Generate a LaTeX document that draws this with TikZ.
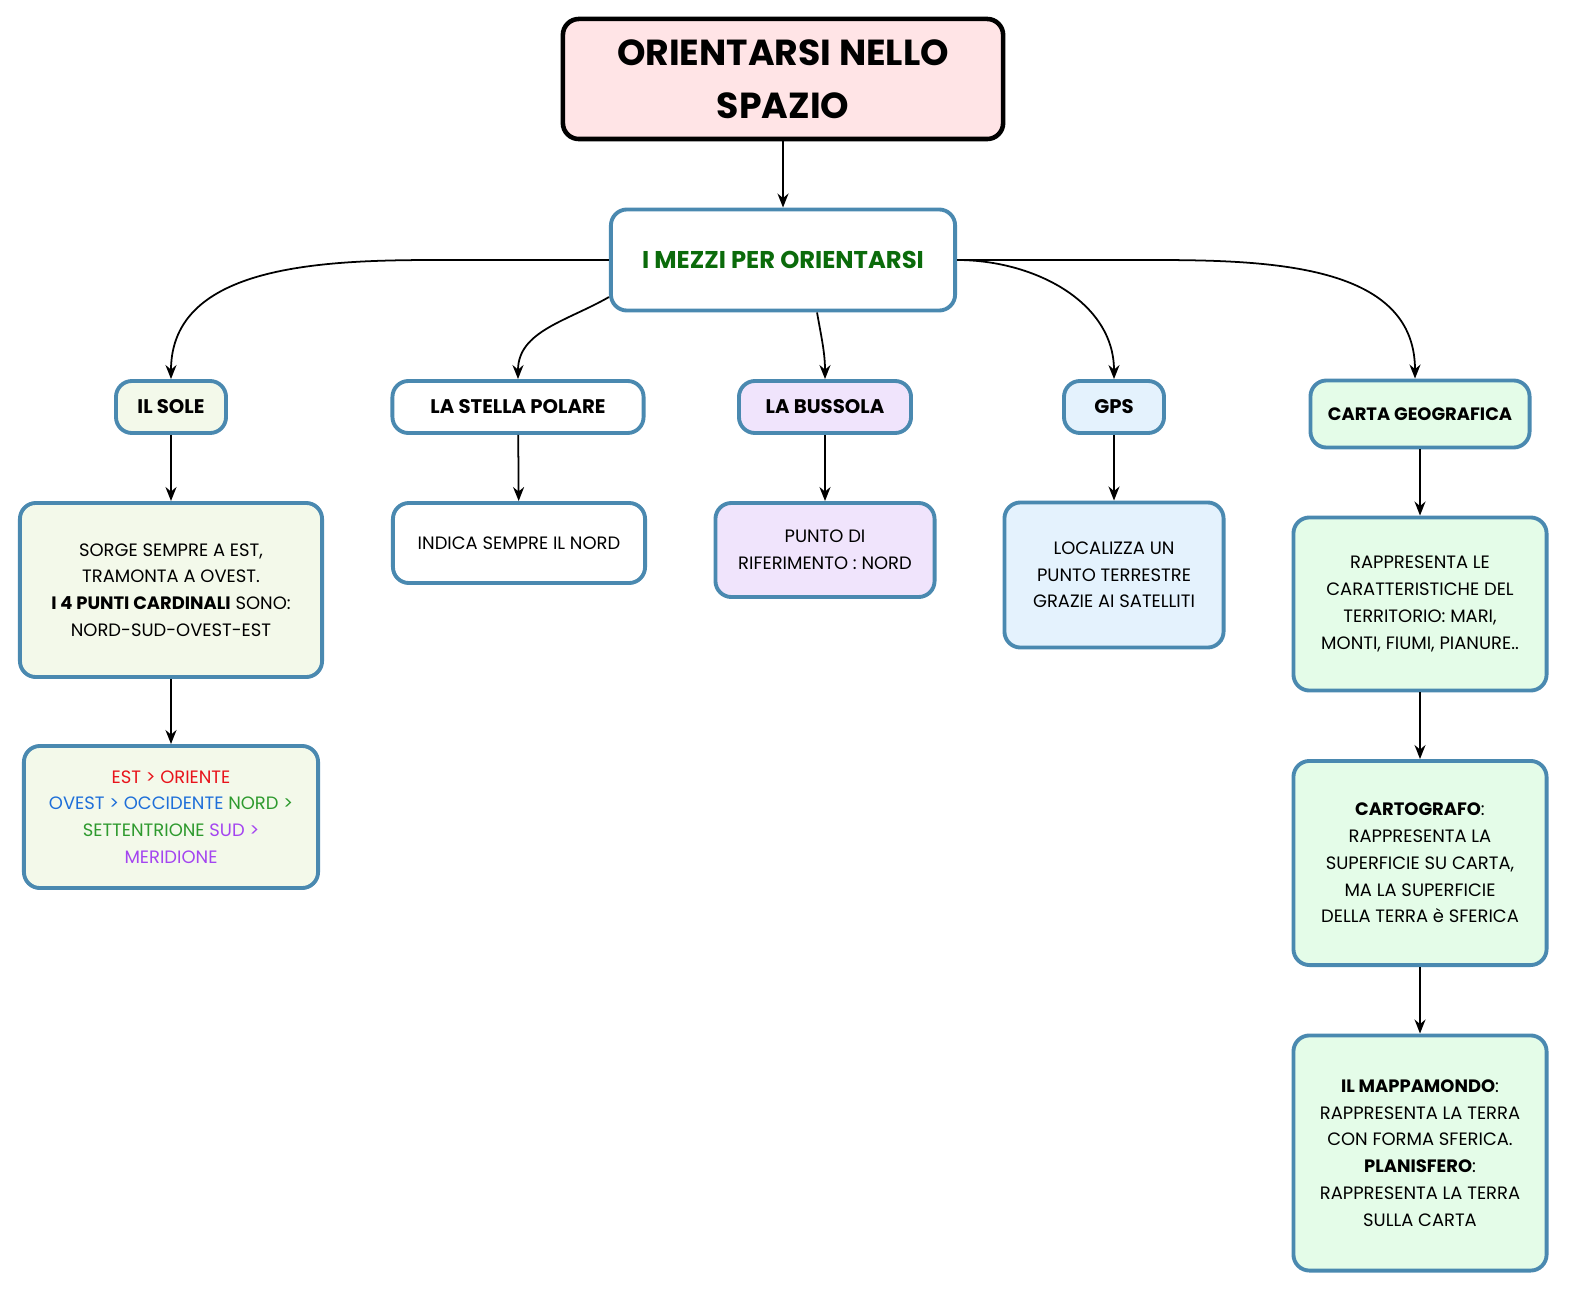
\documentclass[tikz,border=0pt]{standalone}
\usepackage{fontspec}
\setmainfont{Poppins}
\usetikzlibrary{positioning, calc, arrows.meta}
\definecolor{frame}{HTML}{4A89B0}
\definecolor{titlefill}{HTML}{FFE4E6}
\definecolor{solefill}{HTML}{F3F9EA}
\definecolor{bussfill}{HTML}{F0E4FC}
\definecolor{gpsfill}{HTML}{E4F2FD}
\definecolor{cartafill}{HTML}{E4FCE8}
\definecolor{mezzigreen}{HTML}{0B6B0B}
\definecolor{estred}{HTML}{E8141B}
\definecolor{ovestblue}{HTML}{1E6FD9}
\definecolor{nordgreen}{HTML}{2E9A2E}
\definecolor{sudviolet}{HTML}{A445F0}
\tikzset{
    box/.style={draw=frame, line width=1.1pt, rounded corners=1.6mm, align=center, inner sep=0pt, font=\fontsize{5.1}{7.6}\selectfont},
    head/.style={box, font=\fontsize{5.6}{7}\selectfont\bfseries},
    link/.style={-{Stealth[length=1.4mm,width=1.1mm]}, line width=0.5pt}
}
\begin{document}
\begin{tikzpicture}[x=0.01cm, y=-0.01cm]
        \useasboundingbox (0,0) rectangle (1570,1294);
        %Top
        \node[box, draw=black, line width=1.3pt, fill=titlefill, minimum width=4.4cm, minimum height=1.2cm,
              font=\fontsize{10.3}{15}\selectfont\bfseries] (title) at (783,79) {ORIENTARSI NELLO\\SPAZIO};
        \node[head, minimum width=3.44cm, minimum height=1.01cm, text=mezzigreen,
              font=\fontsize{6.9}{8}\selectfont\bfseries] (mezzi) at (783,260) {I MEZZI PER ORIENTARSI};
        %Means
        \node[head, fill=solefill, minimum width=1.1cm, minimum height=0.52cm] (sole) at (171,407) {IL SOLE};
        \node[head, fill=white, minimum width=2.51cm, minimum height=0.52cm] (stella) at (518,407) {LA STELLA POLARE};
        \node[head, fill=bussfill, minimum width=1.72cm, minimum height=0.52cm] (bussola) at (825,407) {LA BUSSOLA};
        \node[head, fill=gpsfill, minimum width=1cm, minimum height=0.52cm] (gps) at (1114,407) {GPS};
        \node[head, fill=cartafill, minimum width=2.19cm, minimum height=0.67cm,
              font=\fontsize{5.1}{7}\selectfont\bfseries] (carta) at (1420,414) {CARTA GEOGRAFICA};
        %Descriptions
        \node[box, fill=solefill, minimum width=3.02cm, minimum height=1.74cm] (sorge) at (171,590)
            {SORGE SEMPRE A EST,\\TRAMONTA A OVEST.\\\textbf{I 4 PUNTI CARDINALI} SONO:\\NORD-SUD-OVEST-EST};
        \node[box, fill=solefill, minimum width=2.94cm, minimum height=1.42cm] (punti) at (171,817)
            {\textcolor{estred}{EST > ORIENTE}\\\textcolor{ovestblue}{OVEST > OCCIDENTE} \textcolor{nordgreen}{NORD >}\\\textcolor{nordgreen}{SETTENTRIONE} \textcolor{sudviolet}{SUD >}\\\textcolor{sudviolet}{MERIDIONE}};
        \node[box, fill=white, minimum width=2.52cm, minimum height=0.8cm] (indica) at (519,543) {INDICA SEMPRE IL NORD};
        \node[box, fill=bussfill, minimum width=2.19cm, minimum height=0.94cm] (riferimento) at (825,550)
            {PUNTO DI\\RIFERIMENTO : NORD};
        \node[box, fill=gpsfill, minimum width=2.19cm, minimum height=1.45cm] (localizza) at (1114,575)
            {LOCALIZZA UN\\PUNTO TERRESTRE\\GRAZIE AI SATELLITI};
        \node[box, fill=cartafill, minimum width=2.53cm, minimum height=1.73cm] (territorio) at (1420,604)
            {RAPPRESENTA LE\\CARATTERISTICHE DEL\\TERRITORIO: MARI,\\MONTI, FIUMI, PIANURE..};
        \node[box, fill=cartafill, minimum width=2.53cm, minimum height=2.04cm] (cartografo) at (1420,863)
            {\textbf{CARTOGRAFO}:\\RAPPRESENTA LA\\SUPERFICIE SU CARTA,\\MA LA SUPERFICIE\\DELLA TERRA è SFERICA};
        \node[box, fill=cartafill, minimum width=2.53cm, minimum height=2.35cm] (mappamondo) at (1420,1153)
            {\textbf{IL MAPPAMONDO}:\\RAPPRESENTA LA TERRA\\CON FORMA SFERICA.\\\textbf{PLANISFERO}:\\RAPPRESENTA LA TERRA\\SULLA CARTA};
        %Links
        \draw[link] (title) -- (mezzi);
        \draw[link] (mezzi.west) -- ++(-170,0) to[out=180, in=90] (sole.north);
        \draw[link] ([yshift=-3.7mm]mezzi.west) to[out=210, in=90] (stella.north);
        \draw[link] ([xshift=3.4mm]mezzi.south) to[out=-80, in=90] (bussola.north);
        \draw[link] (mezzi.east) to[out=0, in=90] (gps.north);
        \draw[link] (mezzi.east) -- ++(170,0) to[out=0, in=90] ([xshift=-0.5mm]carta.north);
        \draw[link] (sole) -- (sorge);
        \draw[link] (sorge) -- (punti);
        \draw[link] (stella) -- (indica);
        \draw[link] (bussola) -- (riferimento);
        \draw[link] (gps) -- (localizza);
        \draw[link] (carta) -- (territorio);
        \draw[link] (territorio) -- (cartografo);
        \draw[link] (cartografo) -- (mappamondo);
\end{tikzpicture}
\end{document}
